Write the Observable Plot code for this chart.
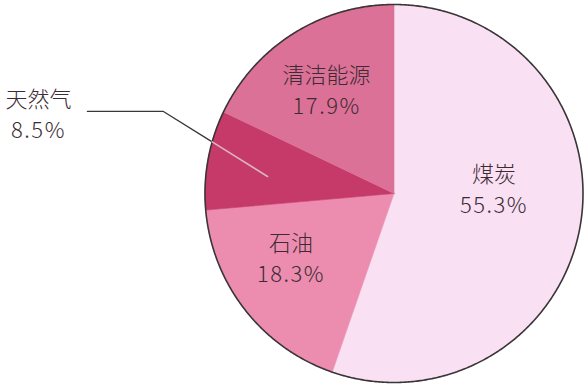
<!DOCTYPE html>
<html>
<head>
<meta charset="utf-8">
<script src="https://cdn.jsdelivr.net/npm/d3@7"></script>
<script src="https://cdn.jsdelivr.net/npm/@observablehq/plot@0.6"></script>
<style>
  html, body { margin: 0; padding: 0; background: #ffffff; }
  #chart svg { display: block; }
  /* the percentage line of each label is set a little wider */
  #chart text tspan:nth-child(2) { letter-spacing: 1.5px; }
</style>
</head>
<body>
<div id="chart"></div>
<script>
// Energy consumption structure (share of total, %), clockwise from 12 o'clock
const sources = ["煤炭", "石油", "天然气", "清洁能源"];
const shares = [55.3, 18.3, 8.5, 17.9];
const colors = ["#f9e0f3", "#ec8db0", "#c53a69", "#dc7197"];

// Label placement in polar terms: degrees clockwise from top, radius in pie radii
const labelAngle = [86.6, 238.6, 282.8, 327.3];
const labelRadius = [0.53, 0.639, 1.929, 0.66];
// Leader line for the label drawn outside the pie (pie-radius units)
const leaderPath = [[-1.622, 0.434], [-1.220, 0.434], [-0.669, 0.090]];

const W = 588, H = 387;
const cx = 393.5, cy = 193, R = 189;

const rad = d => d * Math.PI / 180;
const total = d3.sum(shares);

// Build each wedge as a closed outline: centre -> arc -> centre
const wedgePoints = [];
let start = 0;
sources.forEach((s, i) => {
  const sweep = shares[i] / total * 360;
  const end = start + sweep;
  wedgePoints.push({source: s, x: 0, y: 0});
  const n = Math.max(2, Math.ceil(sweep / 0.5));
  for (let k = 0; k <= n; k++) {
    const a = rad(start + sweep * k / n);
    wedgePoints.push({source: s, x: Math.sin(a), y: Math.cos(a)});
  }
  wedgePoints.push({source: s, x: 0, y: 0});
  start = end;
});

const rim = d3.range(0, 361, 0.5).map(a => ({x: Math.sin(rad(a)), y: Math.cos(rad(a))}));

const labels = sources.map((s, i) => ({
  text: `${s}\n${shares[i].toFixed(1)}%`,
  x: labelRadius[i] * Math.sin(rad(labelAngle[i])),
  y: labelRadius[i] * Math.cos(rad(labelAngle[i]))
}));

// Split the leader at the rim: outside part dark, inside part light
const [pB, pE] = [leaderPath[1], leaderPath[2]];
const dx = pE[0] - pB[0], dy = pE[1] - pB[1];
const qa = dx * dx + dy * dy, qb = 2 * (pB[0] * dx + pB[1] * dy), qc = pB[0] ** 2 + pB[1] ** 2 - 1;
const t = (-qb - Math.sqrt(qb * qb - 4 * qa * qc)) / (2 * qa);
const rimHit = [pB[0] + t * dx, pB[1] + t * dy];
const leaderOut = [leaderPath[0], leaderPath[1], rimHit].map(([x, y]) => ({x, y}));
const leaderIn = [rimHit, leaderPath[2]].map(([x, y]) => ({x, y}));

const chart = Plot.plot({
  width: W,
  height: H,
  margin: 0,
  x: {domain: [-1, 1], range: [cx - R, cx + R], axis: null},
  y: {domain: [-1, 1], range: [cy + R, cy - R], axis: null},
  color: {domain: sources, range: colors},
  style: {background: "#ffffff"},
  marks: [
    Plot.line(wedgePoints, {x: "x", y: "y", z: "source", fill: "source", stroke: "source", strokeWidth: 0.6, curve: "linear"}),
    Plot.line(rim, {x: "x", y: "y", stroke: "#3b3538", strokeWidth: 1.6}),
    Plot.line(leaderOut, {x: "x", y: "y", stroke: "#3b3538", strokeWidth: 1.3}),
    Plot.line(leaderIn, {x: "x", y: "y", stroke: "#d9b3c3", strokeWidth: 1.6}),
    Plot.text(labels, {
      x: "x", y: "y", text: "text",
      fill: "#3c2b33",
      fontSize: 22,
      fontWeight: 300,
      fontFamily: "'Noto Sans CJK SC', sans-serif",
      lineHeight: 1.4,
      textAnchor: "middle"
    })
  ]
});

document.getElementById("chart").appendChild(chart);
</script>
</body>
</html>
